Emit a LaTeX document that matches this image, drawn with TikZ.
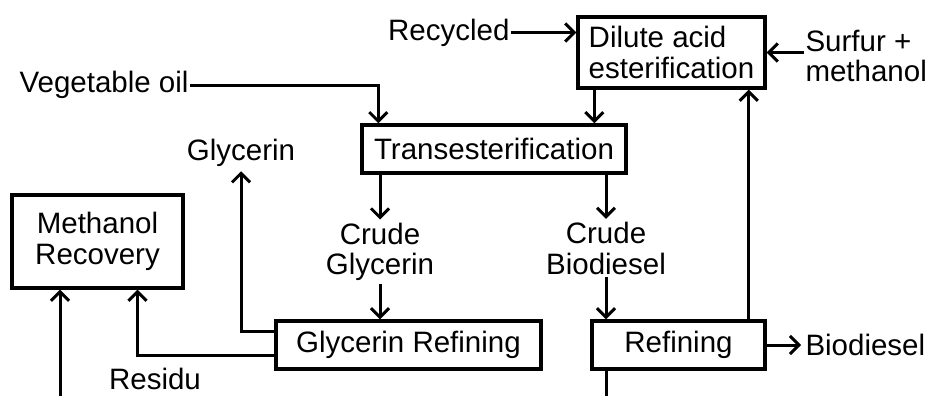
\documentclass[tikz,border=0pt]{standalone}
\usepackage{fontspec}
\setmainfont{Liberation Sans}
\usetikzlibrary{arrows.meta, positioning}

\tikzset{
    procbox/.style={draw, line width=3.4pt, inner sep=0pt, align=center,
        minimum height=48pt},
    label/.style={inner sep=0pt, align=center}
}

\begin{document}
\begin{tikzpicture}[
    x=1pt, y=-1pt,
    line width=3pt,
    font=\fontsize{29.5}{30.5}\selectfont,
    >={Straight Barb[length=9pt, width=18pt]} % Set default arrow tip style
]
    \useasboundingbox (0,0) rectangle (928,396);

    % Process boxes
    \node[procbox, minimum width=187pt, minimum height=71pt, align=left] (dilute) at (671.5,52.5) {Dilute acid\\esterification};
    \node[procbox, minimum width=264pt] (trans) at (494,149) {Transesterification};
    \node[procbox, minimum width=171pt, minimum height=93pt] (methrec) at (97.5,241.5) {Methanol\\Recovery};
    \node[procbox, minimum width=265pt] (glyref) at (408.5,345) {Glycerin Refining};
    \node[procbox, minimum width=173pt] (refin) at (678.5,345) {Refining};

    % Stream labels
    \node[label, anchor=east] (recycled) at (511,32.5) {Recycled};
    \node[label, anchor=west, align=left] (surfur) at (804,56) {Surfur +\\methanol};
    \node[label, anchor=east] (vegoil) at (190,85) {Vegetable oil};
    \node[label] (glycerin) at (241,153) {Glycerin};
    \node[label] (crudeg) at (380,252) {Crude\\Glycerin};
    \node[label] (crudeb) at (606,248.5) {Crude\\Biodiesel};
    \node[label, anchor=west] (biodiesel) at (804,345) {Biodiesel};
    \node[label] (residu) at (155,379) {Residu};

    % Loose ends at the bottom edge
    \coordinate (resin) at (60,396);
    \coordinate (refout) at (606,396);

    % Feeds
    \draw[->] (recycled.east) -- (recycled.east -| dilute.west);
    \draw[->] (dilute.east -| surfur.west) -- (dilute.east);
    \draw[->] (vegoil.east) -| ([xshift=18pt]trans.north west);
    \draw[->] ([xshift=18pt]dilute.south west) -- ([xshift=18pt]dilute.south west |- trans.north);

    % Transesterification products
    \draw[->] (crudeg.north |- trans.south) -- ([yshift=2pt]crudeg.north);
    \draw[->] (crudeb.north |- trans.south) -- ([yshift=2pt]crudeb.north);
    \draw[->] ([yshift=-1pt]crudeg.south) -- (crudeg.south |- glyref.north);
    \draw[->] ([yshift=-1pt]crudeb.south) -- (crudeb.south |- refin.north);

    % Glycerin refining outputs
    \draw[->] ([yshift=14pt]glyref.west) -| ([yshift=-3pt]glycerin.south);
    \draw[->] ([yshift=-10pt]glyref.west) -| ([xshift=40pt]methrec.south);
    \draw[->] (resin) -- (resin |- methrec.south);

    % Refining outputs
    \draw[->] ([xshift=-18pt]refin.north east) -- ([xshift=-18pt]dilute.south east);
    \draw[->] (refin.east) -- ([xshift=-3pt]biodiesel.west);
    \draw (refout |- refin.south) -- (refout);

\end{tikzpicture}
\end{document}
